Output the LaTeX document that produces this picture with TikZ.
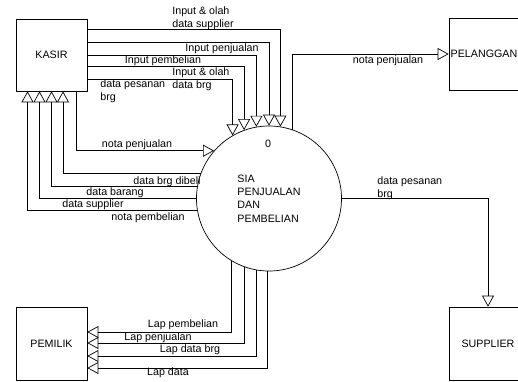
\documentclass[tikz,border=0pt]{standalone}
\usepackage{fontspec}
\setmainfont{Liberation Sans}
\usetikzlibrary{arrows.meta}

\begin{document}
\begin{tikzpicture}[
        x                   = 1pt,
        y                   = -1pt,
        font                = \fontsize{10.7}{13}\selectfont,
        line width          = 0.7pt,
        entitas/.style      = {draw, rectangle, minimum width=71pt, minimum height=72pt, inner sep=0pt},
        entitasluar/.style  = {entitas, minimum width=78pt},
        proses/.style       = {draw, circle, minimum size=145pt, inner sep=0pt, align=left,
                               font=\fontsize{10.7}{13.3}\selectfont},
        aliran/.style       = {draw, -{Triangle[open, length=11pt, width=12pt]}},
        ket/.style          = {inner sep=0pt, align=left},
        %sloped
      ]
        \useasboundingbox (0,0) rectangle (518,381);

        % entitas dan proses
        \node[entitas] (kasir) at (51.5,55) {KASIR};
        \node[entitas, minimum height=73pt] (pemilik) at (51.5,343.5) {PEMILIK};
        \node[entitasluar, minimum width=70pt] (pelanggan) at (484,54) {PELANGGAN};
        \node[entitasluar, minimum height=73pt] (supplier) at (488,343.5) {SUPPLIER};
        \node[proses] (sia) at (269,198.5) {SIA\\PENJUALAN\\DAN\\PEMBELIAN};
        \node[ket] (nomor) at (268,144) {0};

        % kasir ke proses
        \draw[aliran] ([yshift=25.3pt]kasir.east) -| (sia.81.2);
        \draw[aliran] ([yshift=12.3pt]kasir.east) -| (sia.90.8);
        \draw[aliran] (kasir.east) -| (sia.100.4);
        \draw[aliran] ([yshift=-11.7pt]kasir.east) -| (sia.110.3);
        \draw[aliran] ([yshift=-24pt]kasir.east) -| (sia.120.9);
        \draw[aliran] ([xshift=24.5pt]kasir.south) |- (sia.139.3);

        % proses ke kasir
        \draw[aliran] (sia.160.5) -| ([xshift=11.5pt]kasir.south);
        \draw[aliran] (sia.170.9) -| (kasir.south);
        \draw[aliran] (sia.180.6) -| ([xshift=-12pt]kasir.south);
        \draw[aliran] (sia.189.9) -| ([xshift=-24pt]kasir.south);

        % proses ke pelanggan, supplier, pemilik
        \draw[aliran] (sia.71.4) |- (pelanggan.west);
        \draw[aliran] (sia.0) -| (supplier.north);
        \draw[aliran] (sia.239.1) |- ([yshift=11.5pt]pemilik.east);
        \draw[aliran] (sia.250.5) |- ([yshift=0.5pt]pemilik.east);
        \draw[aliran] (sia.260.4) |- ([yshift=-12.5pt]pemilik.east);
        \draw[aliran] (sia.269.2) |- ([yshift=-24.5pt]pemilik.east);

        % keterangan aliran
        \node[ket, anchor=west] (lsupp) at (172,18) {Input \& olah\\data supplier};
        \node[ket] (ljual) at (222,49) {Input penjualan};
        \node[ket] (lbeli) at (163,61) {Input pembelian};
        \node[ket, anchor=west] (lbrg) at (172,79.5) {Input \& olah\\data brg};
        \node[ket, anchor=west] (lpesan) at (100,91) {data pesanan\\brg};
        \node[ket] (lnotaj) at (137,145) {nota penjualan};
        \node[ket] (ldibeli) at (167,181.5) {data brg dibeli};
        \node[ket] (lbarang) at (115,193) {data barang};
        \node[ket] (lsupplier) at (93,204.5) {data supplier};
        \node[ket] (lnotab) at (148,217.5) {nota pembelian};
        \node[ket] (lnotap) at (388,61) {nota penjualan};
        \node[ket, anchor=west] (lpesans) at (377,188.5) {data pesanan\\brg};
        \node[ket] (llapbeli) at (183,325) {Lap pembelian};
        \node[ket] (llapjual) at (158,338) {Lap penjualan};
        \node[ket] (llapbrg) at (190,350) {Lap data brg};
        \node[ket] (llapdata) at (168,373) {Lap data};
    \end{tikzpicture}
\end{document}
